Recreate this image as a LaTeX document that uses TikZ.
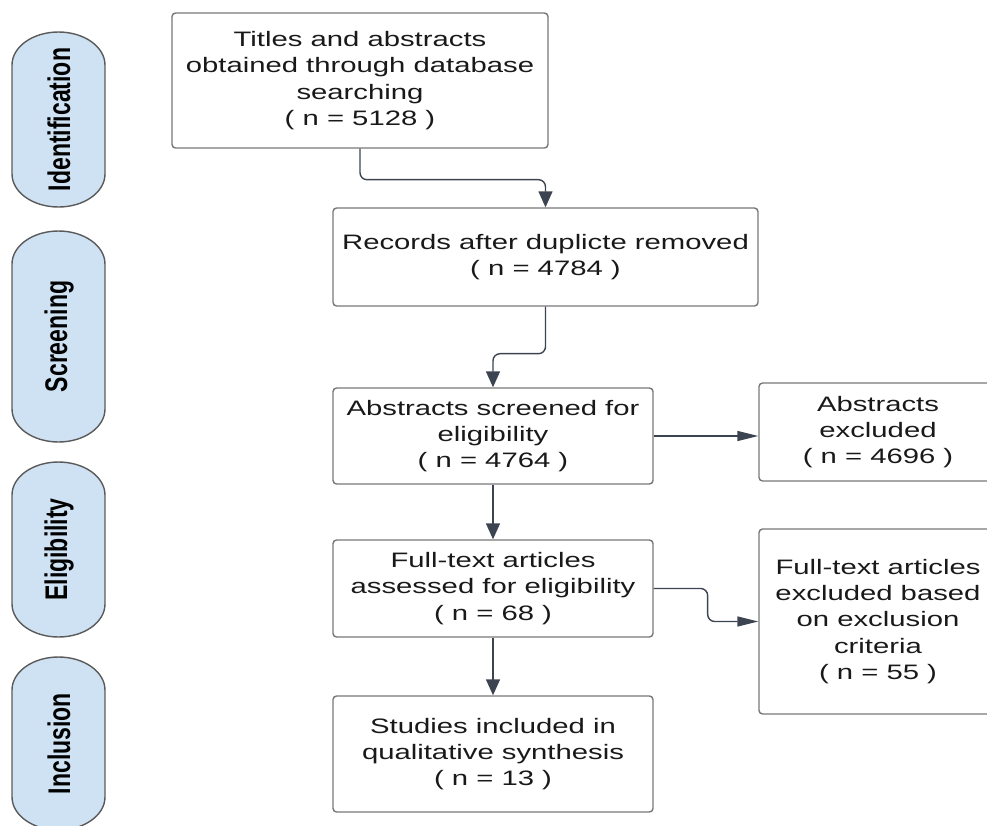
\documentclass[tikz,border=0pt]{standalone}
\usepackage{fontspec}
\setmainfont[FakeStretch=1.4]{Liberation Sans}
\newfontfamily\pillfont{Liberation Sans}
\usepackage{tikz}
\usetikzlibrary{arrows.meta}
\usetikzlibrary{positioning}

\definecolor{boxgray}{RGB}{120,120,120}
\definecolor{arrowgray}{RGB}{61,68,81}
\definecolor{pillblue}{RGB}{207,226,243}
\definecolor{pillline}{RGB}{90,90,90}
\definecolor{textblack}{RGB}{25,25,25}

\tikzset{
box/.style={draw=boxgray, line width=0.8pt, rounded corners=2pt, align=center, text=textblack, inner sep=0pt, font=\fontsize{11.9}{14.9}\selectfont},
flow/.style={draw=arrowgray, line width=0.8pt, rounded corners=4pt, -{Triangle[length=0.32cm,width=0.28cm]}},
side/.style={flow, -{Triangle[length=0.42cm,width=0.2cm]}},
pill/.style={draw=pillline, fill=pillblue, line width=0.8pt},
phase/.style={rotate=90, text=black, font=\pillfont\bfseries\fontsize{13.1}{15}\selectfont}
}

\begin{document}
\begin{tikzpicture}[x=0.02cm, y=-0.02cm]

    \clip (0,0) rectangle (987,825);
    \useasboundingbox (0,0) rectangle (987,825);

    % phases on the left
    \foreach \t/\b/\lab [count=\i] in {32/207/Identification, 231/442/Screening, 462/637/Eligibility, 657/830/Inclusion}{
        \draw[pill] (12,\b-33) -- (12,\t+33) arc[start angle=180, end angle=0, x radius=0.93cm, y radius=0.66cm]
            -- (105,\b-33) arc[start angle=0, end angle=-180, x radius=0.93cm, y radius=0.66cm] -- cycle;
        \node[phase] (p\i) at (59,{(\t+\b)/2}) {\scalebox{1}[1.36]{\lab}};
    }

    % boxes
    \node[box, minimum width=7.52cm, minimum height=2.7cm] (titles) at (360,80.5) {Titles and abstracts\\obtained through database\\searching\\( n = 5128 )};
    \node[box, minimum width=8.5cm, minimum height=1.96cm] (records) at (545.5,257) {Records after duplicte removed\\( n = 4784 )};
    \node[box, minimum width=6.4cm, minimum height=1.92cm] (screened) at (493,436) {Abstracts screened for\\eligibility\\( n = 4764 )};
    \node[box, minimum width=4.76cm, minimum height=1.96cm] (absexcl) at (878,432) {Abstracts\\excluded\\( n = 4696 )};
    \node[box, minimum width=6.4cm, minimum height=1.94cm] (fulltext) at (493,588.5) {Full-text articles\\assessed for eligibility\\( n = 68 )};
    \node[box, minimum width=4.76cm, minimum height=3.7cm] (ftexcl) at (878,621.5) {Full-text articles\\excluded based\\on exclusion\\criteria\\( n = 55 )};
    \node[box, minimum width=6.4cm, minimum height=2.32cm] (included) at (493,754) {Studies included in\\qualitative synthesis\\( n = 13 )};

    % connectors
    \draw[flow] (titles.south) -- ++(0,31) -| (records.north);
    \draw[flow] (records.south) -- ++(0,47) -| (screened.north);
    \draw[side] (screened.east) -- (absexcl.west |- screened.east);
    \draw[flow] (screened) -- (fulltext);
    \draw[side] (fulltext.east) -- ++(54,0) |- (ftexcl.west);
    \draw[flow] (fulltext) -- (included);

\end{tikzpicture}
\end{document}
